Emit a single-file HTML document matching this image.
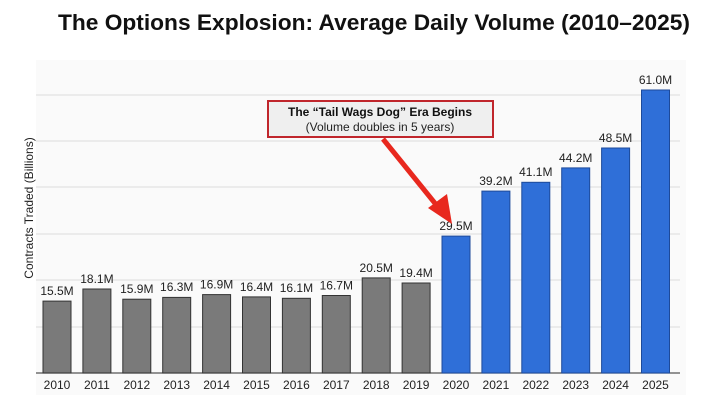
<!DOCTYPE html><html><head><style>body{margin:0;background:#fff}svg{display:block;font-family:"Liberation Sans",Arial,sans-serif}</style></head><body>
<svg width="712" height="409" viewBox="0 0 712 409" xmlns="http://www.w3.org/2000/svg">
<rect width="712" height="409" fill="#fff"/>
<rect x="36" y="60" width="650" height="335" fill="#fafafa"/>
<text x="374" y="30" text-anchor="middle" font-size="22" font-weight="bold" fill="#111" textLength="632" lengthAdjust="spacingAndGlyphs">The Options Explosion: Average Daily Volume (2010–2025)</text>
<g stroke="#dcdcdc" stroke-width="1">
<line x1="36" x2="680" y1="95" y2="95"/><line x1="36" x2="680" y1="141" y2="141"/><line x1="36" x2="680" y1="187" y2="187"/><line x1="36" x2="680" y1="234" y2="234"/><line x1="36" x2="680" y1="280" y2="280"/><line x1="36" x2="680" y1="327" y2="327"/>
</g>
<line x1="36" x2="680" y1="373" y2="373" stroke="#555" stroke-width="1.2"/>
<text transform="translate(33,208) rotate(-90)" text-anchor="middle" font-size="12" fill="#222">Contracts Traded (Billions)</text>
<g stroke="#333" stroke-width="1" fill="#7a7a7a">
<rect x="43" y="301.1" width="28" height="71.9"/>
<rect x="82.9" y="289" width="28" height="84"/>
<rect x="122.8" y="299.2" width="28" height="73.8"/>
<rect x="162.7" y="297.4" width="28" height="75.6"/>
<rect x="202.6" y="294.6" width="28" height="78.4"/>
<rect x="242.5" y="296.9" width="28" height="76.1"/>
<rect x="282.4" y="298.3" width="28" height="74.7"/>
<rect x="322.3" y="295.5" width="28" height="77.5"/>
<rect x="362.2" y="277.9" width="28" height="95.1"/>
<rect x="402.1" y="283" width="28" height="90"/>
</g>
<g stroke="#1d4a9a" stroke-width="1" fill="#2f6fd8">
<rect x="442" y="236.1" width="28" height="136.9"/>
<rect x="481.9" y="191.1" width="28" height="181.9"/>
<rect x="521.8" y="182.3" width="28" height="190.7"/>
<rect x="561.7" y="167.9" width="28" height="205.1"/>
<rect x="601.6" y="148" width="28" height="225"/>
<rect x="641.5" y="90" width="28" height="283"/>
</g>
<g font-size="12" fill="#222" text-anchor="middle">
<text x="57" y="295">15.5M</text><text x="96.9" y="283">18.1M</text><text x="136.8" y="293">15.9M</text><text x="176.7" y="291">16.3M</text><text x="216.6" y="288.5">16.9M</text><text x="256.5" y="291">16.4M</text><text x="296.4" y="292">16.1M</text><text x="336.3" y="289.5">16.7M</text><text x="376.2" y="272">20.5M</text><text x="416.1" y="277">19.4M</text>
<text x="456" y="230">29.5M</text><text x="495.9" y="185">39.2M</text><text x="535.8" y="176">41.1M</text><text x="575.7" y="162">44.2M</text><text x="615.6" y="142">48.5M</text><text x="655.5" y="84">61.0M</text>
<text x="57" y="389">2010</text><text x="96.9" y="389">2011</text><text x="136.8" y="389">2012</text><text x="176.7" y="389">2013</text><text x="216.6" y="389">2014</text><text x="256.5" y="389">2015</text><text x="296.4" y="389">2016</text><text x="336.3" y="389">2017</text><text x="376.2" y="389">2018</text><text x="416.1" y="389">2019</text><text x="456" y="389">2020</text><text x="495.9" y="389">2021</text><text x="535.8" y="389">2022</text><text x="575.7" y="389">2023</text><text x="615.6" y="389">2024</text><text x="655.5" y="389">2025</text>
</g>
<rect x="268" y="101" width="225" height="36" fill="#efefef" stroke="#c0262c" stroke-width="2"/>
<text x="380" y="116" text-anchor="middle" font-size="12" font-weight="bold" fill="#111">The “Tail Wags Dog” Era Begins</text>
<text x="380" y="131" text-anchor="middle" font-size="12" fill="#222">(Volume doubles in 5 years)</text>
<line x1="383" y1="139" x2="438" y2="207" stroke="#e8281e" stroke-width="5"/>
<polygon points="452,224 428,208 447,194" fill="#e8281e"/>
</svg></body></html>
